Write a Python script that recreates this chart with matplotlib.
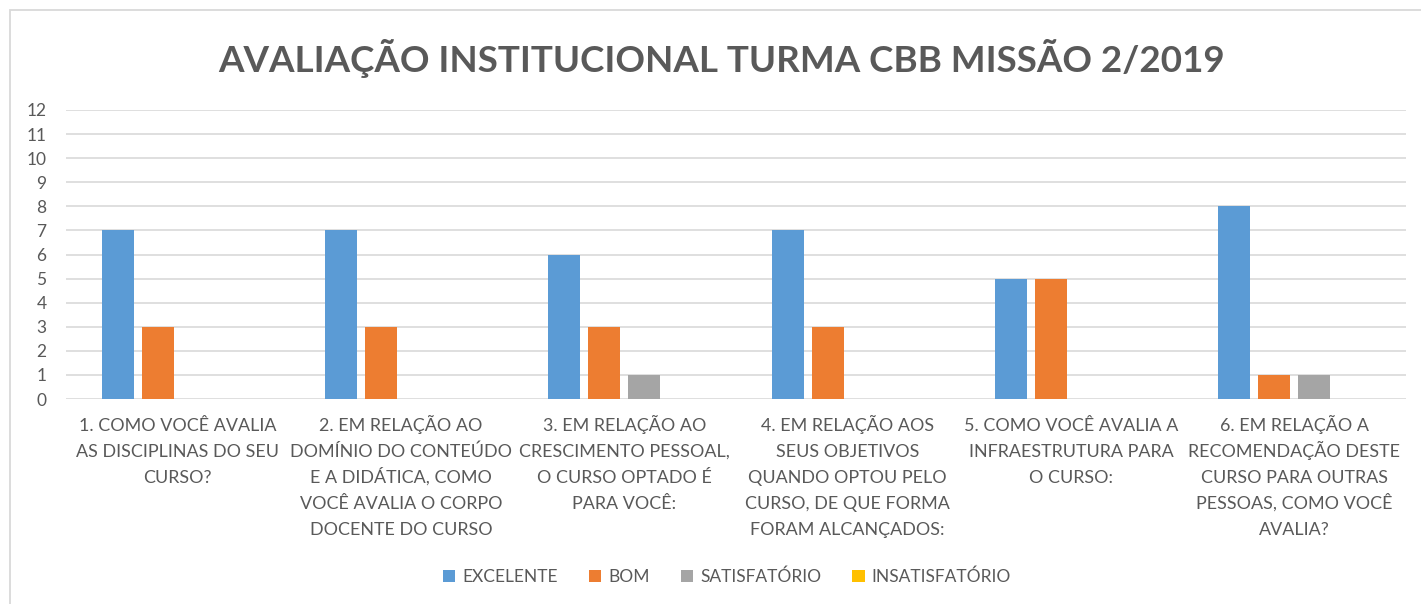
import numpy as np
from matplotlib import pyplot as plt
from matplotlib.patches import Rectangle
from matplotlib.transforms import blended_transform_factory, offset_copy

plt.rcParams['font.family'] = ['Lato', 'DejaVu Sans']

categorias = [
    '1. COMO VOCÊ AVALIA\nAS DISCIPLINAS DO SEU\nCURSO?',
    '2. EM RELAÇÃO AO\nDOMÍNIO DO CONTEÚDO\nE A DIDÁTICA, COMO\nVOCÊ AVALIA O CORPO\nDOCENTE DO CURSO',
    '3. EM RELAÇÃO AO\nCRESCIMENTO PESSOAL,\nO CURSO OPTADO É\nPARA VOCÊ:',
    '4. EM RELAÇÃO AOS\nSEUS OBJETIVOS\nQUANDO OPTOU PELO\nCURSO, DE QUE FORMA\nFORAM ALCANÇADOS:',
    '5. COMO VOCÊ AVALIA A\nINFRAESTRUTURA PARA\nO CURSO:',
    '6. EM RELAÇÃO A\nRECOMENDAÇÃO DESTE\nCURSO PARA OUTRAS\nPESSOAS, COMO VOCÊ\nAVALIA?',
]
excelente = [7, 7, 6, 7, 5, 8]
bom = [3, 3, 3, 3, 5, 1]
satisfatorio = [0, 0, 1, 0, 0, 1]
insatisfatorio = [0, 0, 0, 0, 0, 0]

series = ['EXCELENTE', 'BOM', 'SATISFATÓRIO', 'INSATISFATÓRIO']
cores = ['#5B9BD5', '#ED7D31', '#A5A5A5', '#FFC000']
valores = [excelente, bom, satisfatorio, insatisfatorio]

texto = '#595959'

fig = plt.figure(figsize=(14.21, 6.04), dpi=100)
fig.patches.append(Rectangle((10/1421, -0.1), 1.1, 1 - 10/604 + 0.1, transform=fig.transFigure,
                             fill=False, edgecolor='#D9D9D9', linewidth=1.3))
ax = fig.add_axes([66/1421, 1 - 399/604, (1406-66)/1421, (399-110)/604])

x = np.arange(len(categorias))
passo = 40/223.3
larg = 32/223.3
for i, (nome, v, c) in enumerate(zip(series, valores, cores)):
    ax.bar(x + (i - 1.5)*passo, v, larg, color=c, label=nome, zorder=3)

ax.set_xlim(-0.5, len(categorias) - 0.5)
ax.set_ylim(0, 12)
ax.set_yticks(range(0, 13))
ax.yaxis.grid(True, color='#D9D9D9', linewidth=1.2, zorder=0)
ax.set_axisbelow(True)
for s in ax.spines.values():
    s.set_visible(False)
ax.tick_params(axis='both', length=0, labelcolor=texto, labelsize=12.5)
ax.tick_params(axis='y', pad=14)
ax.set_xticks([])

# category labels, one line at a time on a fixed baseline step
trans = blended_transform_factory(ax.transData, ax.transAxes)
for xi, rotulo in zip(x, categorias):
    for k, linha in enumerate(rotulo.split('\n')):
        t = offset_copy(trans, fig=fig, y=-(32 + 26*k)*0.72, units='points')
        ax.text(xi, 0, linha, transform=t, ha='center', va='baseline',
                fontsize=12.9, color=texto)

fig.text(722/1421, 1 - 58/604, 'AVALIAÇÃO INSTITUCIONAL TURMA CBB MISSÃO 2/2019',
         ha='center', va='center', fontsize=26.5, fontweight='bold', color=texto)

fig.legend(loc='center', bbox_to_anchor=(727/1421, 1 - 577/604), ncol=4, frameon=False,
           fontsize=12.5, labelcolor=texto, handlelength=0.7, handleheight=0.7,
           handletextpad=0.4, columnspacing=1.8)

fig.savefig('out.png', dpi=100)
